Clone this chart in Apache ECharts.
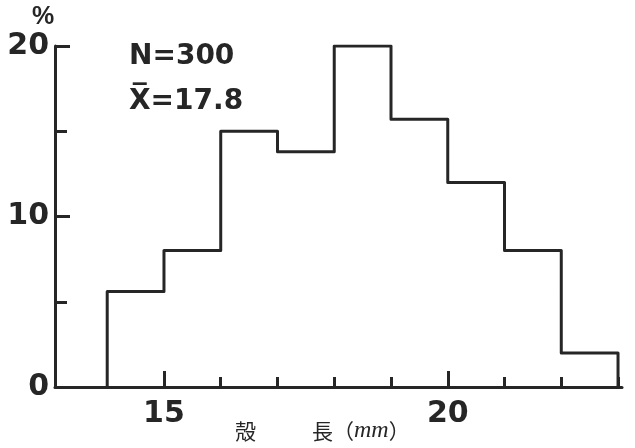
<!DOCTYPE html>
<html>
<head>
<meta charset="utf-8">
<script src="https://cdn.jsdelivr.net/npm/echarts@6/dist/echarts.min.js"></script>
<style>
html,body{margin:0;padding:0;background:#fff;}
#chart{width:635px;height:448px;}
</style>
</head>
<body>
<div id="chart"></div>
<script>
// Histogram of shell length (殻長, mm), N=300
const binEdges = [14, 15, 16, 17, 18, 19, 20, 21, 22, 23];
const percents = [5.6, 8.0, 15.0, 13.8, 20.0, 15.7, 12.0, 8.0, 2.0];
const xMajorTicks = [15, 20];
const xMinorTicks = [16, 17, 18, 19, 21, 22, 23];
const yLabelValues = [0, 10, 20];
const annotationN = 'N=300';
const annotationMean = 'X\u0305=17.8';

// step-line points built from bin edges and values
const stepData = [[binEdges[0], 0]];
for (let i = 0; i < percents.length; i++) {
  stepData.push([binEdges[i + 1], percents[i]]);
}
stepData.push([binEdges[binEdges.length - 1], 0]);

const ink = '#262626';
const numFont = 'DejaVu Sans';

const chart = echarts.init(document.getElementById('chart'), null, {renderer: 'canvas'});
chart.setOption({
  animation: false,
  backgroundColor: '#fff',
  grid: {left: 55, right: 13, top: 46, bottom: 61, containLabel: false},
  xAxis: [{
    type: 'value', position: 'bottom', min: 13.08, max: 23.07,
    axisLine: {show: true, onZero: false, lineStyle: {color: ink, width: 3}},
    axisTick: {show: true, inside: true, length: 16, customValues: xMajorTicks, lineStyle: {color: ink, width: 3}},
    axisLabel: {show: true, customValues: xMajorTicks, margin: 12, color: ink, fontFamily: numFont, fontWeight: 'bold', fontSize: 30},
    splitLine: {show: false}
  }, {
    type: 'value', position: 'bottom', min: 13.08, max: 23.07,
    axisLine: {show: false, onZero: false},
    axisTick: {show: true, inside: true, length: 10, customValues: xMinorTicks, lineStyle: {color: ink, width: 3}},
    axisLabel: {show: false},
    splitLine: {show: false}
  }],
  yAxis: {
    type: 'value', min: 0, max: 20, interval: 10,
    axisLine: {show: true, onZero: false, lineStyle: {color: ink, width: 3}},
    axisTick: {show: true, inside: true, length: 15, lineStyle: {color: ink, width: 3}},
    minorTick: {show: true, splitNumber: 2, length: 12, lineStyle: {color: ink, width: 3}},
    axisLabel: {show: true, margin: 6, color: ink, fontFamily: numFont, fontWeight: 'bold', fontSize: 30,
      formatter: v => yLabelValues.indexOf(v) >= 0 ? String(v) : ''},
    splitLine: {show: false}
  },
  series: [{
    type: 'line', xAxisIndex: 0, data: stepData, step: 'start', symbol: 'none',
    lineStyle: {color: ink, width: 3, join: 'round', cap: 'round'}
  }],
  graphic: [
    {type: 'text', left: 32, top: 5, style: {text: '%', fill: ink, font: 'bold 25px "Liberation Sans"'}},
    {type: 'text', x: 129, y: 57, style: {text: annotationN, fill: ink, font: 'bold 28px "DejaVu Sans"', verticalAlign: 'middle'}},
    {type: 'text', x: 129, y: 102, style: {text: annotationMean, fill: ink, font: 'bold 28px "DejaVu Sans"', verticalAlign: 'middle'}},
    {type: 'text', x: 235, y: 431, style: {
      text: '{a|殻}{g| }{a|長（}{i|mm}{a|）}',
      verticalAlign: 'middle',
      rich: {
        a: {fontFamily: 'Noto Sans CJK JP', fontSize: 21, fill: ink},
        g: {width: 56, fontSize: 21},
        i: {fontFamily: 'Liberation Serif', fontStyle: 'italic', fontSize: 24, fill: ink}
      }
    }}
  ]
});
</script>
</body>
</html>
